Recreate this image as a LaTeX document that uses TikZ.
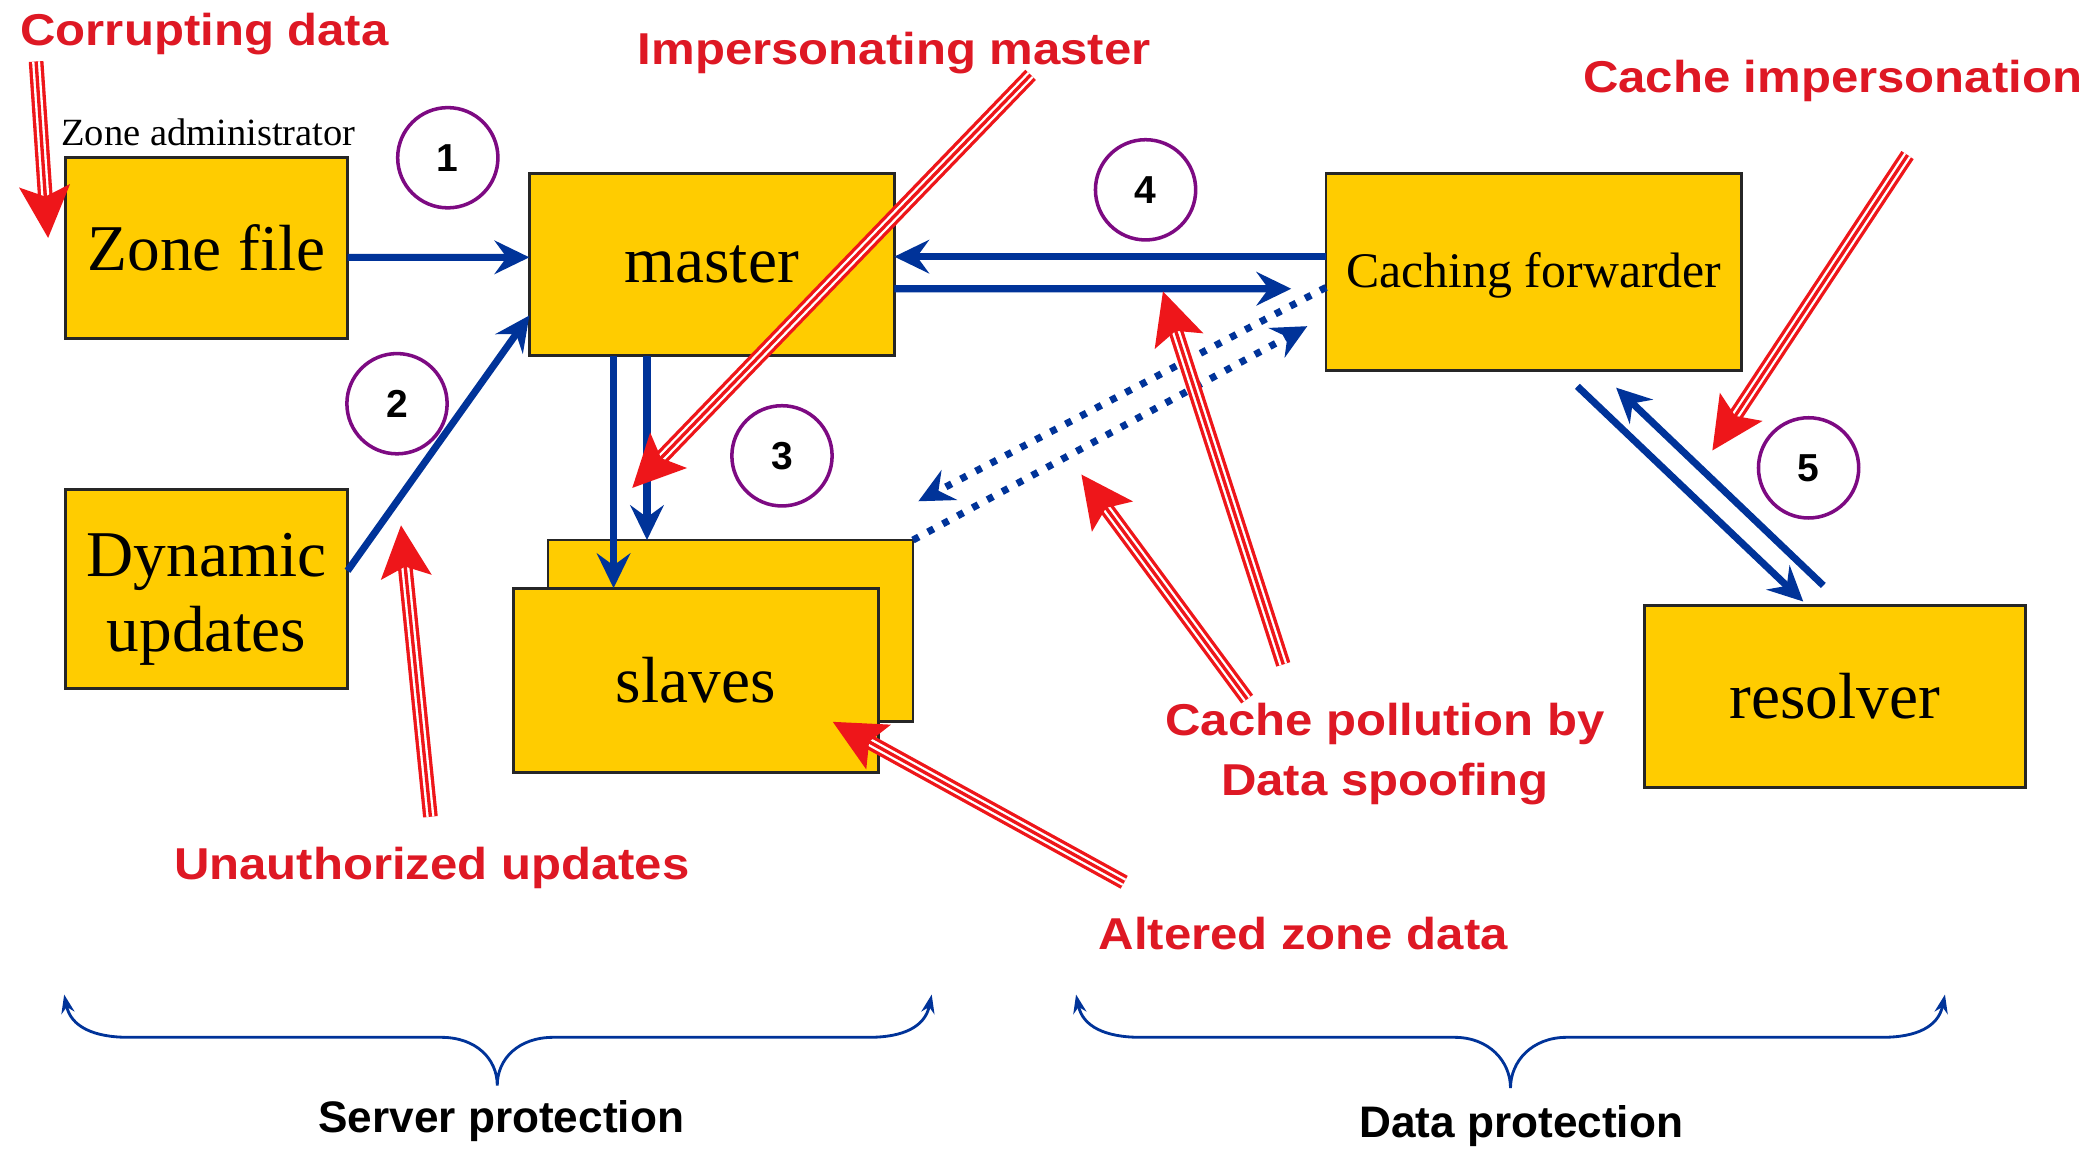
\documentclass[tikz,border=0pt]{standalone}
\usepackage{fontspec}
\setmainfont{Liberation Serif}
\newfontfamily\threatfont{Liberation Sans}[FakeStretch=1.1]
\newfontfamily\plainsans{Liberation Sans}
\usetikzlibrary{arrows.meta,calc}

\definecolor{boxfill}{RGB}{255,204,0}
\definecolor{flowblue}{RGB}{0,51,153}
\definecolor{attackred}{RGB}{238,22,26}
\definecolor{labelred}{RGB}{222,24,36}
\definecolor{ringpurple}{RGB}{125,10,130}

\tikzset{
  server/.style={draw=black!85, line width=0.6pt, fill=boxfill, inner sep=0pt, outer sep=0pt,
    align=center, font=\fontsize{13.9pt}{16pt}\selectfont},
  flow/.style={draw=flowblue, line width=1.5pt, -{Stealth[length=2.6mm,width=2.5mm,inset=0.9mm]}},
  dotflow/.style={flow, line width=1.5pt, dash pattern=on 1.4pt off 2.2pt},
  threat/.style={text=labelred, inner sep=0pt, anchor=base,
    font=\threatfont\bfseries\fontsize{9.5pt}{12.8pt}\selectfont},
  realm/.style={inner sep=0pt, anchor=base, font=\plainsans\bfseries\fontsize{9.4pt}{11pt}\selectfont},
  stepring/.style={circle, draw=ringpurple, line width=0.75pt, minimum size=7.5mm, inner sep=0pt,
    font=\plainsans\bfseries\fontsize{8.3pt}{10pt}\selectfont},
  brace/.style={draw=flowblue, line width=0.6pt,
    {Stealth[length=1.4mm,width=1mm]}-{Stealth[length=1.4mm,width=1mm]}},
}

% triple-lined red attack arrow with a solid head
\newcommand\attackarrow[2]{%
  \draw[attackred, line width=1.1mm, shorten >=2.8mm] (#1) -- (#2);
  \draw[white, line width=0.6mm, shorten >=2.8mm] (#1) -- (#2);
  \draw[attackred, line width=0.25mm, shorten >=2.8mm] (#1) -- (#2);
  \draw[attackred, line width=0.2mm, -{Stealth[length=3.9mm,width=3.8mm,inset=0.8mm]}]
    ($(#2)!4mm!(#1)$) -- (#2);
}

\begin{document}
\begin{tikzpicture}[x=0.1mm, y=-0.1mm]
\useasboundingbox[fill=white] (0,0) rectangle (1568,859);

% servers
\node[server, minimum width=21.1mm, minimum height=13.5mm] (zone) at (154.5,185.5) {Zone file};
\node[server, minimum width=27.3mm, minimum height=13.6mm] (master) at (532.5,198) {master};
\node[server, minimum width=31.1mm, minimum height=14.7mm,
      font=\fontsize{10.6pt}{12pt}\selectfont] (fwd) at (1147.5,203.5) {\raisebox{0pt}[9pt]{Caching forwarder}};
\node[server, minimum width=21.1mm, minimum height=14.9mm] (dyn) at (154.5,440.5)
  {\raisebox{0pt}[13.5pt]{Dynamic}\\updates};
\node[server, minimum width=27.3mm, minimum height=13.6mm] (slavesback) at (546.5,472) {};
\node[server, minimum width=27.3mm, minimum height=13.8mm] (slaves) at (520.5,509) {slaves};
\node[server, minimum width=28.5mm, minimum height=13.6mm] (resolver) at (1372.5,521) {resolver};

\node[inner sep=0pt, anchor=base, font=\fontsize{8.2pt}{10pt}\selectfont] (admin) at (156,109) {Zone administrator};

% step numbers
\node[stepring] (c1) at (335,118) {1};
\node[stepring] (c2) at (297,302) {2};
\node[stepring] (c3) at (585,341) {3};
\node[stepring] (c4) at (857,142) {4};
\node[stepring] (c5) at (1353,350) {5};

% data flows
\draw[flow] ($(zone.east)+(0,7)$) -- ($(master.west)+(0,-5.5)$);
\draw[flow] ($(dyn.east)+(0,-13.5)$) -- ($(master.west)+(0,38)$);
\draw[flow] ($(master.south)+(-73.5,0)$) -- ($(slaves.north)+(-61.5,0)$);
\draw[flow] ($(master.south)+(-48.5,0)$) -- ($(slavesback.north)+(-62.5,0)$);
\draw[flow] ($(fwd.west)+(0,-11.5)$) -- ($(master.east)+(0,-6)$);
\draw[flow] ($(master.east)+(0,18)$) -- ($(fwd.west)+(-26,12.5)$);

\coordinate (dotA) at (687,375);
\coordinate (dotB) at (978,244);
\draw[dotflow] ($(fwd.west)+(0,11.5)$) -- (dotA);
\draw[dotflow] (slavesback.north east) -- (dotB);

\draw[flow] ($(fwd.south)+(32.5,12)$) -- ($(resolver.north)+(-23.5,-3)$);
\draw[flow] ($(resolver.north)+(-8.5,-15)$) -- ($(fwd.south)+(61.5,13)$);

% threats
\node[threat] (corrupt) at (153,34) {Corrupting data};
\node[threat] (imperson) at (669,48.6) {Impersonating master};
\node[threat] (cacheimp) at (1371,69.5) {Cache impersonation};
\node[threat] (unauth) at (323,658) {Unauthorized updates};
\node[threat] (pollute) at (1036,550) {Cache pollution by};
\node[threat] (spoof) at (1036,595) {Data spoofing};
\node[threat] (altered) at (975,710) {Altered zone data};

\coordinate (corruptS) at (27,46);    \coordinate (corruptT) at (36,178);
\coordinate (impersS) at (771,56);    \coordinate (impersT) at (473,365);
\coordinate (pollAS) at (960,497);    \coordinate (pollAT) at (870,218);
\coordinate (pollBS) at (933,523);    \coordinate (pollBT) at (809,355);
\coordinate (altS) at (841,660);      \coordinate (altT) at (623,540);
\coordinate (unauthS) at (322,611);   \coordinate (unauthT) at (300,393);
\coordinate (cimpS) at (1427,116);    \coordinate (cimpT) at (1281,337);

\attackarrow{corruptS}{corruptT}
\attackarrow{impersS}{impersT}
\attackarrow{pollAS}{pollAT}
\attackarrow{pollBS}{pollBT}
\attackarrow{altS}{altT}
\attackarrow{unauthS}{unauthT}
\attackarrow{cimpS}{cimpT}

% protection scopes
\draw[brace] (48,744) .. controls (53,768) and (70,776) .. (96,776) -- (330,776)
  .. controls (356,776) and (372,792) .. (372,812)
  .. controls (372,792) and (388,776) .. (414,776) -- (650,776)
  .. controls (676,776) and (692,768) .. (697,744);
\draw[brace] (805,744) .. controls (810,768) and (827,776) .. (853,776) -- (1088,776)
  .. controls (1114,776) and (1130,794) .. (1130,814)
  .. controls (1130,794) and (1146,776) .. (1172,776) -- (1408,776)
  .. controls (1434,776) and (1450,768) .. (1455,744);

\node[realm] (serverprot) at (375,847) {Server protection};
\node[realm] (dataprot) at (1138,851) {Data protection};
\end{tikzpicture}
\end{document}
